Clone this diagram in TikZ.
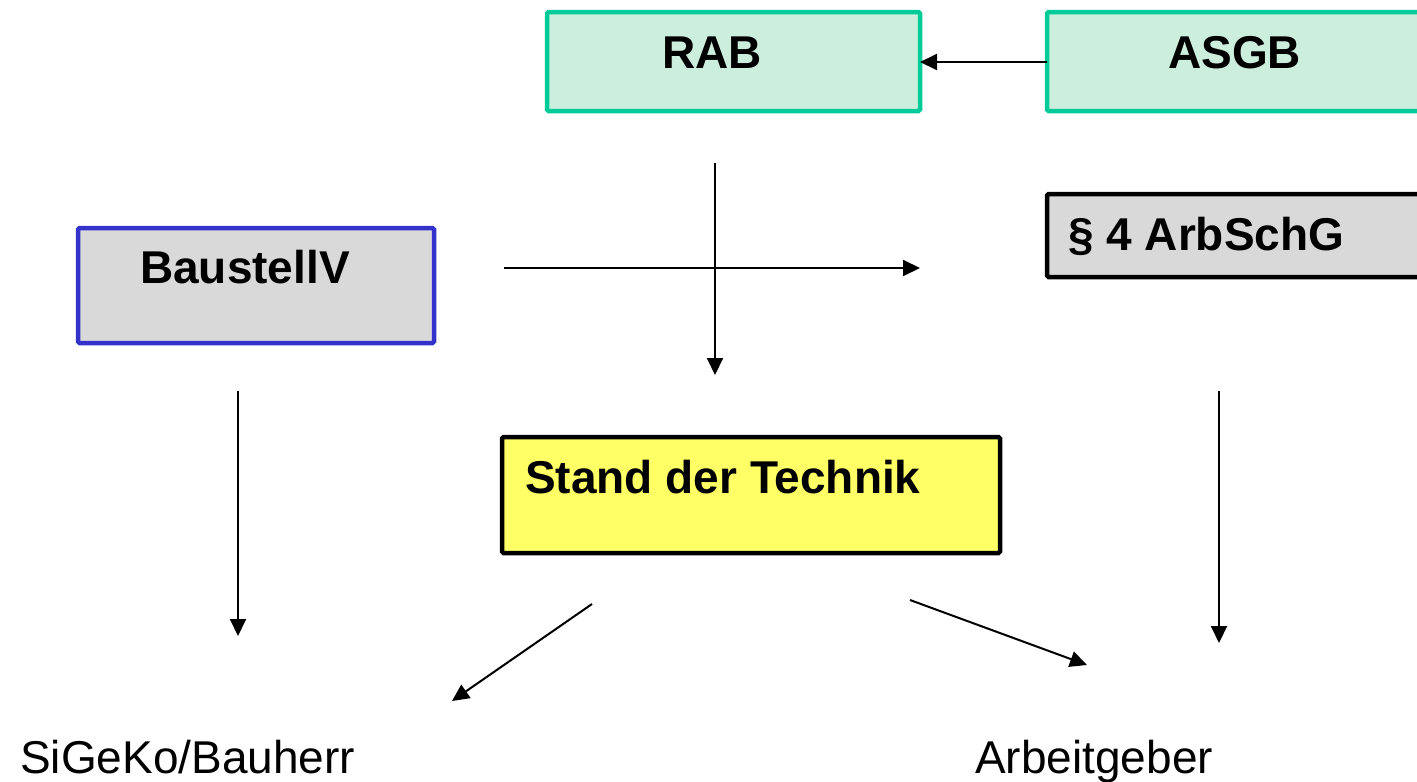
\documentclass[tikz,border=0pt]{standalone}
\usepackage{fontspec}
\setmainfont{Liberation Sans}
\usetikzlibrary{arrows.meta}
\definecolor{boxgreen}{RGB}{0,204,153}
\definecolor{fillgreen}{RGB}{204,238,221}
\definecolor{boxblue}{RGB}{51,51,204}
\definecolor{fillgray}{RGB}{217,217,217}
\definecolor{fillyellow}{RGB}{255,255,102}
\tikzset{
  box/.style={draw, line width=4.5pt, rounded corners=1.5pt, anchor=north west, inner sep=0pt, outer sep=0pt},
  greenbox/.style={box, draw=boxgreen, fill=fillgreen},
  graybox/.style={box, draw=black, fill=fillgray},
  bluebox/.style={box, draw=boxblue, fill=fillgray},
  yellowbox/.style={box, draw=black, fill=fillyellow},
  boldtxt/.style={anchor=base west, inner sep=0pt, font=\fontsize{46}{55}\selectfont\bfseries},
  plaintxt/.style={anchor=base west, inner sep=0pt, font=\fontsize{46}{55}\selectfont},
  conn/.style={line width=2pt, -{Triangle[length=17pt,width=16pt]}}
}
\begin{document}
\begin{tikzpicture}[x=1pt,y=-1pt]
\useasboundingbox (0,0) rectangle (1417,782);
% boxes
\node[greenbox, minimum width=373pt, minimum height=99pt] (rab) at (547,12) {};
\node[greenbox, minimum width=380pt, minimum height=99pt] (asgb) at (1047,12) {};
\node[graybox, minimum width=380pt, minimum height=83pt] (arbschg) at (1047,194) {};
\node[bluebox, minimum width=356pt, minimum height=115pt] (baustellv) at (78,228) {};
\node[yellowbox, minimum width=498pt, minimum height=116pt] (sdt) at (502,437) {};
% texts
\node[boldtxt] (trab) at (662,68) {RAB};
\node[boldtxt] (tasgb) at (1168,68) {ASGB};
\node[boldtxt] (tarb) at (1068,250) {§ 4 ArbSchG};
\node[boldtxt] (tbau) at (140,283) {BaustellV};
\node[boldtxt] (tsdt) at (525,493) {Stand der Technik};
\node[plaintxt] (sigeko) at (20,773) {SiGeKo/Bauherr};
\node[plaintxt] (arbg) at (975,773) {Arbeitgeber};
% connector end points
\coordinate (h1) at (504,268);
\coordinate (h2) at (920,268);
\coordinate (v1) at (715,163);
\coordinate (v2) at (715,375);
\coordinate (b1) at (238,391);
\coordinate (b2) at (238,636);
\coordinate (r1) at (1219,391);
\coordinate (r2) at (1219,643);
\coordinate (d1) at (592,604);
\coordinate (d2) at (452,701);
\coordinate (e1) at (910,600);
\coordinate (e2) at (1087,665);
% connectors
\draw[conn] (asgb.west |- 0,62) -- (rab.east |- 0,62);
\draw[conn] (h1) -- (h2);
\draw[conn] (v1) -- (v2);
\draw[conn] (b1) -- (b2);
\draw[conn] (r1) -- (r2);
\draw[conn] (d1) -- (d2);
\draw[conn] (e1) -- (e2);
\end{tikzpicture}
\end{document}
